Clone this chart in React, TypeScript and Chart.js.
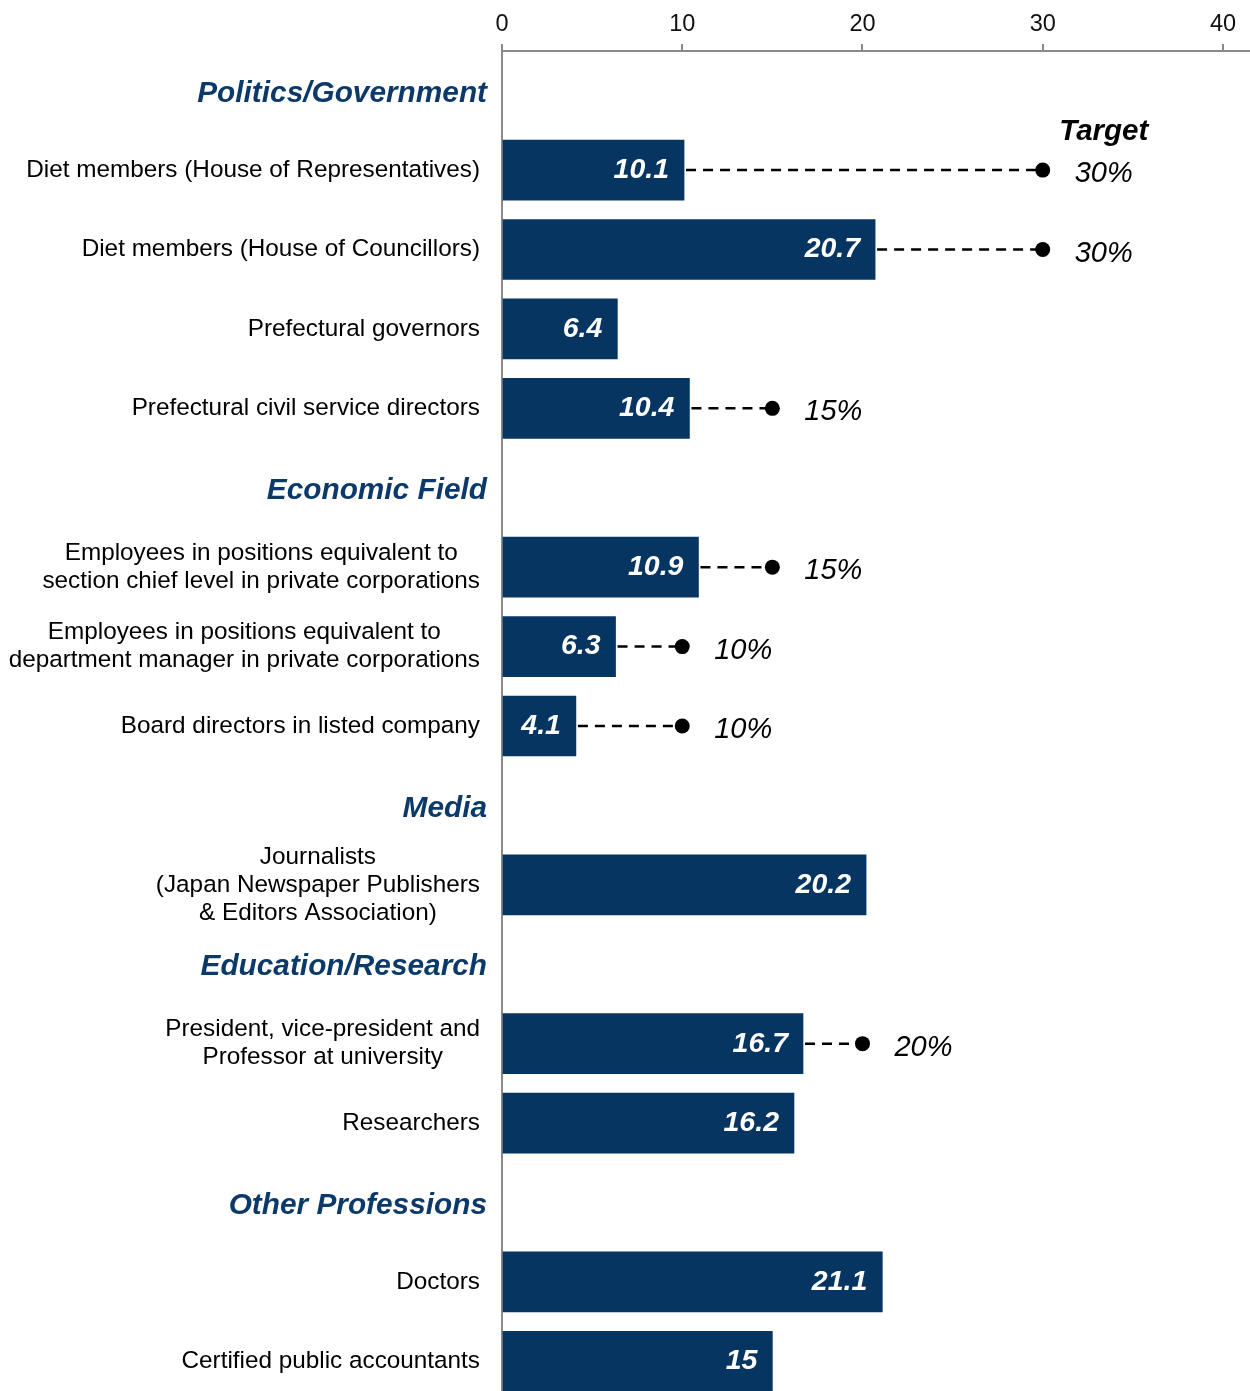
import React, { useEffect, useRef } from 'react';
import { Chart, registerables } from 'chart.js';

Chart.register(...registerables);

const categories: (string | string[])[] = [
  'Politics/Government',
  'Diet members (House of Representatives)',
  'Diet members (House of Councillors)',
  'Prefectural governors',
  'Prefectural civil service directors',
  'Economic Field',
  ['Employees in positions equivalent to', 'section chief level in private corporations'],
  ['Employees in positions equivalent to', 'department manager in private corporations'],
  'Board directors in listed company',
  'Media',
  ['Journalists', '(Japan Newspaper Publishers', '& Editors Association)'],
  'Education/Research',
  ['President, vice-president and', 'Professor at university'],
  'Researchers',
  'Other Professions',
  'Doctors',
  'Certified public accountants',
];

const isGroupHeader: boolean[] = [
  true, false, false, false, false,
  true, false, false, false,
  true, false,
  true, false, false,
  true, false, false,
];

const shareValues: (number | null)[] = [
  null, 10.1, 20.7, 6.4, 10.4,
  null, 10.9, 6.3, 4.1,
  null, 20.2,
  null, 16.7, 16.2,
  null, 21.1, 15,
];

const targetValues: (number | null)[] = [
  null, 30, 30, null, 15,
  null, 15, 10, 10,
  null, null,
  null, 20, null,
  null, null, null,
];

const xTickValues = [0, 10, 20, 30, 40];
const targetTitle = 'Target';

const FONT = "'Liberation Sans', Arial, Helvetica, sans-serif";
const BAR_COLOR = '#073561';
const HEADER_COLOR = '#0b3a6a';

const labelPlugin = {
  id: 'customLabels',
  beforeDatasetsDraw(chart: any) {
    const ctx = chart.ctx;
    const xs = chart.scales.x;
    const ys = chart.scales.y;
    ctx.save();
    ctx.strokeStyle = '#000';
    ctx.lineWidth = 2.5;
    ctx.setLineDash([10, 7]);
    shareValues.forEach((v, i) => {
      const t = targetValues[i];
      if (v == null || t == null) return;
      const y = ys.getPixelForValue(i);
      ctx.beginPath();
      ctx.moveTo(xs.getPixelForValue(v) + 2, y);
      ctx.lineTo(xs.getPixelForValue(t), y);
      ctx.stroke();
    });
    ctx.restore();
  },
  afterDatasetsDraw(chart: any) {
    const ctx = chart.ctx;
    const xs = chart.scales.x;
    const ys = chart.scales.y;
    const area = chart.chartArea;
    ctx.save();
    // value labels inside bars
    const barMeta = chart.getDatasetMeta(0);
    ctx.fillStyle = '#fff';
    ctx.font = `italic bold 28.5px ${FONT}`;
    ctx.textAlign = 'right';
    ctx.textBaseline = 'middle';
    barMeta.data.forEach((bar: any, i: number) => {
      const v = shareValues[i];
      if (v == null) return;
      ctx.fillText(String(v), bar.x - 15, bar.y);
    });
    // target labels
    ctx.fillStyle = '#000';
    ctx.font = `italic 29px ${FONT}`;
    ctx.textAlign = 'left';
    let firstTarget = -1;
    targetValues.forEach((t, i) => {
      if (t == null) return;
      if (firstTarget < 0) firstTarget = i;
      ctx.fillText(`${t}%`, xs.getPixelForValue(t) + 32, ys.getPixelForValue(i) + 4);
    });
    if (firstTarget >= 0) {
      const t = targetValues[firstTarget] as number;
      const w = ctx.measureText(`${t}%`).width;
      ctx.font = `italic bold 29.5px ${FONT}`;
      ctx.textAlign = 'center';
      ctx.fillText(targetTitle, xs.getPixelForValue(t) + 32 + w / 2, ys.getPixelForValue(firstTarget) - 38);
    }
    // category labels (right-aligned block, centered lines)
    categories.forEach((lab, i) => {
      const header = isGroupHeader[i];
      const y = ys.getPixelForValue(i) + (header ? 3 : 0);
      const lines = Array.isArray(lab) ? lab : [lab];
      if (header) {
        ctx.font = `italic bold 29.8px ${FONT}`;
        ctx.fillStyle = HEADER_COLOR;
      } else {
        ctx.font = `24.3px ${FONT}`;
        ctx.fillStyle = '#000';
      }
      const right = area.left - (header ? 15 : 22);
      const lh = 28;
      const widths = lines.map((l) => ctx.measureText(l).width);
      const maxW = Math.max(...widths);
      const cx = right - maxW / 2;
      ctx.textAlign = 'center';
      ctx.textBaseline = 'middle';
      lines.forEach((l, k) => {
        const ly = y + (k - (lines.length - 1) / 2) * lh;
        ctx.fillText(l, cx, ly);
      });
    });
    ctx.restore();
  },
};

export default function App() {
  const ref = useRef<HTMLCanvasElement | null>(null);
  useEffect(() => {
    if (!ref.current) return;
    Chart.defaults.font.family = FONT;
    const chart = new Chart(ref.current, {
      type: 'bar',
      data: {
        labels: categories as any,
        datasets: [
          {
            type: 'bar',
            label: 'Share of women (%)',
            data: shareValues as any,
            backgroundColor: BAR_COLOR,
            borderWidth: 0,
            barThickness: 60,
            order: 2,
          } as any,
          {
            type: 'line',
            label: 'Target',
            data: targetValues as any,
            indexAxis: 'y',
            showLine: false,
            pointRadius: 7.5,
            pointHoverRadius: 7.5,
            pointBackgroundColor: '#000',
            pointBorderColor: '#000',
            pointBorderWidth: 0,
            order: 1,
          } as any,
        ],
      },
      options: {
        indexAxis: 'y',
        responsive: false,
        animation: false,
        devicePixelRatio: 1,
        layout: { padding: 0, autoPadding: false },
        plugins: {
          legend: { display: false },
          tooltip: { enabled: false },
        },
        scales: {
          x: {
            type: 'linear',
            position: 'top',
            min: 0,
            max: 41.5,
            afterBuildTicks: (s: any) => {
              s.ticks = xTickValues.map((v) => ({ value: v }));
            },
            afterFit: (s: any) => {
              s.height = 51;
              s.paddingLeft = 0;
              s.paddingRight = 0;
            },
            ticks: {
              font: { size: 23.5, family: FONT },
              color: '#111',
              padding: 5,
              maxRotation: 0,
            },
            grid: {
              drawOnChartArea: false,
              drawTicks: true,
              tickLength: 7,
              color: '#8a8a8a',
              lineWidth: 2,
            },
            border: { display: true, color: '#8a8a8a', width: 2 },
          },
          y: {
            type: 'category',
            position: 'left',
            afterFit: (s: any) => {
              s.width = 502;
              s.paddingTop = 0;
              s.paddingBottom = 0;
            },
            ticks: { display: false },
            grid: { drawOnChartArea: false, drawTicks: false, color: '#8a8a8a' },
            border: { display: true, color: '#8a8a8a', width: 2 },
          },
        },
      } as any,
      plugins: [labelPlugin],
    });
    return () => chart.destroy();
  }, []);
  return (
    <div style={{ position: 'absolute', left: 0, top: 0, width: 1250, height: 1391, overflow: 'hidden', background: '#fff' }}>
      <canvas ref={ref} width={1250} height={1401} style={{ display: 'block' }} />
    </div>
  );
}
